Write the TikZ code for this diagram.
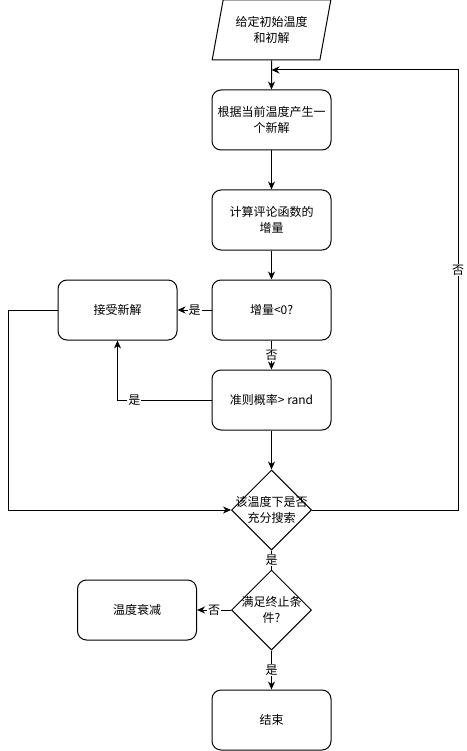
\documentclass[tikz,border=0pt]{standalone}
\usepackage{fontspec}
\setmainfont{Noto Sans CJK SC}
\usetikzlibrary{shapes,arrows,arrows.meta,positioning}

\begin{document}
\begin{tikzpicture}[x=1pt,y=-1pt]
		\tikzstyle{Step}	= [rectangle, draw, line width=1pt, rounded corners=9pt, minimum width=119pt, minimum height=60pt, inner sep=0pt, align=center]
		\tikzstyle{Input}	= [trapezium, draw, line width=1pt, trapezium stretches=true, trapezium left angle=73.3, trapezium right angle=106.7, minimum width=119pt, minimum height=60pt, inner sep=0pt, align=center]
		\tikzstyle{Decide}	= [diamond, draw, line width=1pt, minimum width=80pt, minimum height=80pt, inner sep=0pt]
		\tikzstyle{Flow}	= [line width=1pt, rounded corners=9pt, -{Stealth[length=8pt,width=7pt,inset=2.5pt]}]
		\tikzstyle{Plain}	= [line width=1pt]
		\tikzstyle{Label}	= [fill=white, inner sep=1pt]

		\useasboundingbox (0,0) rectangle (466,751);
		\begin{scope}[font=\fontsize{12}{16}\selectfont]

		\node (init) at (271.5,30) [Input] {给定初始温度\\和初解};
		\node (gen)  at (271.5,120) [Step] {根据当前温度产生一\\个新解};
		\node (dE)   at (271.5,220) [Step] {计算评论函数的\\增量};
		\node (neg)  at (271.5,310) [Step] {增量<0?};
		\node (acc)  at (117.5,310) [Step] {接受新解};
		\node (prob) at (271.5,400) [Step] {准则概率> rand};
		\node (d1)   at (271.5,510) [Decide, label={[align=center]center:{该温度下是否\\充分搜索}}] {};
		\node (d2)   at (271.5,610) [Decide, label={[align=center]center:{满足终止条\\件?}}] {};
		\node (cool) at (137,610) [Step] {温度衰减};
		\node (end)  at (271.5,720) [Step] {结束};

		\coordinate (j)  at (271.5,70);
		\coordinate (r1) at (458,510);
		\coordinate (r2) at (458,70);
		\coordinate (l1) at (8,310);
		\coordinate (l2) at (8,510);
		\coordinate (c3) at (117.5,400);

		\draw (init) to (gen) [Flow];
		\draw (gen) to (dE) [Flow];
		\draw (dE) to (neg) [Flow];
		\draw (neg) to node[Label] {是} (acc) [Flow];
		\draw (neg) to node[Label] {否} (prob) [Flow];
		\draw (prob.west) -- node[Label, pos=0.82] {是} (c3) -- (acc.south) [Flow];
		\draw (prob) to (d1) [Flow];
		\draw (acc.west) -- (l1) -- (l2) -- (d1.west) [Flow];
		\draw (d1.east) -- (r1) -- node[Label, pos=0.545] {否} (r2) -- (j) [Flow];
		\draw (d1) to node[Label] {是} (d2) [Plain];
		\draw (d2) to node[Label] {否} (cool) [Flow];
		\draw (d2) to node[Label] {是} (end) [Flow];
		\end{scope}
	\end{tikzpicture}
\end{document}
